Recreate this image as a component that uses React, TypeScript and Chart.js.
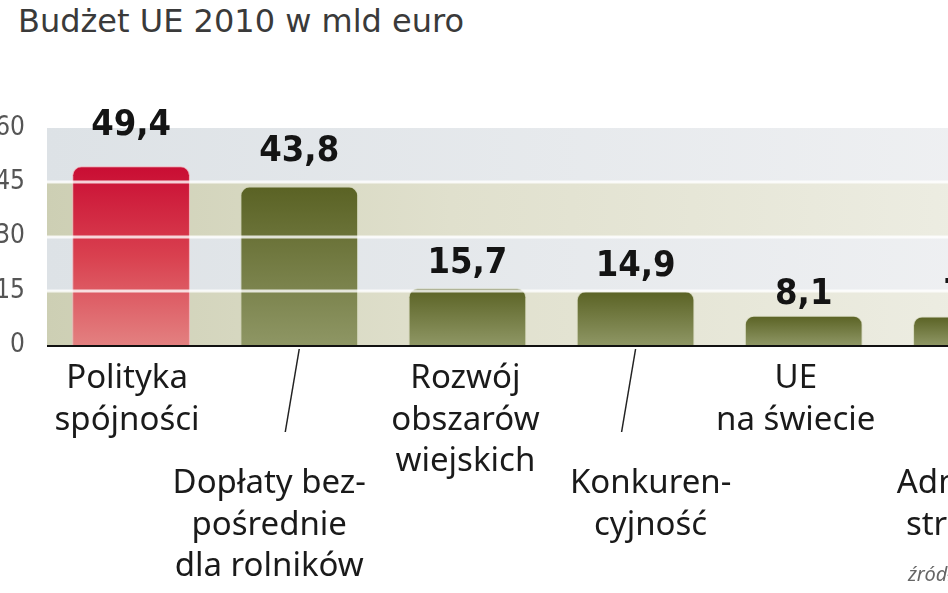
import React, { useEffect, useRef } from "react";
import { Chart, registerables } from "chart.js";

Chart.register(...registerables);

// ---- data ----
const categories: string[][] = [
  ["Polityka", "spójności"],
  ["Dopłaty bez-", "pośrednie", "dla rolników"],
  ["Rozwój", "obszarów", "wiejskich"],
  ["Konkuren-", "cyjność"],
  ["UE", "na świecie"],
  ["Admini-", "stracja"],
];
const values = [49.4, 43.8, 15.7, 14.9, 8.1, 7.9];
const yTicks = [0, 15, 30, 45, 60];
const title = "Budżet UE 2010 w mld euro";
const source = "źródło: Komisja Europejska";

// ---- layout / style ----
const labelRow = [0, 1, 0, 1, 0, 1];
const labelShift = [-4, -30, -2, 15, -8, -15];
const valueGap = [31, 26, 15, 15, 12, 12];
const CANVAS_W = 1080;
const CANVAS_H = 593;

const fmt = (v: number) => v.toFixed(1).replace(".", ",");

const decorPlugin = {
  id: "decor",
  beforeDatasetsDraw(chart: any) {
    const { ctx, chartArea } = chart;
    const y = chart.scales.y;
    for (let i = 0; i < yTicks.length - 1; i++) {
      const y1 = y.getPixelForValue(yTicks[i]);
      const y2 = y.getPixelForValue(yTicks[i + 1]);
      const g = ctx.createLinearGradient(chartArea.left, 0, chartArea.right, 0);
      if (i % 2 === 0) {
        g.addColorStop(0, "#cdcfb4");
        g.addColorStop(0.4, "#e0e0cd");
        g.addColorStop(1, "#efefe6");
      } else {
        g.addColorStop(0, "#dde2e6");
        g.addColorStop(1, "#f0f1f3");
      }
      ctx.save();
      ctx.fillStyle = g;
      ctx.fillRect(chartArea.left, y2, chartArea.right - chartArea.left, y1 - y2);
      ctx.restore();
    }
  },
  afterDatasetsDraw(chart: any) {
    const { ctx, chartArea } = chart;
    const y = chart.scales.y;
    const meta = chart.getDatasetMeta(0);
    ctx.save();
    // white grid lines over bars
    ctx.strokeStyle = "rgba(255,255,255,0.8)";
    ctx.lineWidth = 3;
    for (let i = 1; i < yTicks.length - 1; i++) {
      const py = Math.round(y.getPixelForValue(yTicks[i]));
      ctx.beginPath();
      ctx.moveTo(chartArea.left, py);
      ctx.lineTo(chartArea.right, py);
      ctx.stroke();
    }
    // axis line
    ctx.strokeStyle = "#111";
    ctx.lineWidth = 2;
    const by = chartArea.bottom + 1;
    ctx.beginPath();
    ctx.moveTo(chartArea.left, by);
    ctx.lineTo(chartArea.right, by);
    ctx.stroke();

    // value labels
    ctx.fillStyle = "#141414";
    ctx.textAlign = "center";
    ctx.textBaseline = "alphabetic";
    ctx.font = "bold 36px 'DejaVu Sans Condensed', 'Liberation Sans Narrow', sans-serif";
    meta.data.forEach((bar: any, i: number) => {
      ctx.fillText(fmt(values[i]), bar.x, bar.y - valueGap[i]);
    });

    // category labels
    ctx.font = "33px 'Noto Sans', 'Open Sans', sans-serif";
    ctx.fillStyle = "#1a1a1a";
    ctx.textBaseline = "middle";
    const lh = 41.5;
    meta.data.forEach((bar: any, i: number) => {
      const cx = bar.x + labelShift[i];
      const startY = chartArea.bottom + (labelRow[i] === 0 ? 34 : 139);
      categories[i].forEach((line, j) => {
        ctx.fillText(line, cx, startY + j * lh);
      });
      if (labelRow[i] === 1) {
        ctx.strokeStyle = "#222";
        ctx.lineWidth = 1.5;
        ctx.beginPath();
        ctx.moveTo(bar.x, chartArea.bottom + 4);
        ctx.lineTo(bar.x - 14, chartArea.bottom + 87);
        ctx.stroke();
      }
    });

    // source
    const last = meta.data[meta.data.length - 1];
    ctx.font = "italic 20px 'Noto Sans', 'Open Sans', sans-serif";
    ctx.fillStyle = "#666";
    ctx.textAlign = "left";
    ctx.fillText(source, last.x - 64, chartArea.bottom + 230);
    ctx.restore();
  },
};

export default function App() {
  const ref = useRef<HTMLCanvasElement | null>(null);

  useEffect(() => {
    if (!ref.current) return;
    const chart = new Chart(ref.current, {
      type: "bar",
      data: {
        labels: categories.map((c) => c.join(" ")),
        datasets: [
          {
            data: values,
            backgroundColor: (c: any) => {
              const chart = c.chart;
              const area = chart.chartArea;
              if (!area) return "#6b7434";
              const y = chart.scales.y;
              const top = y.getPixelForValue(values[c.dataIndex]);
              const g = chart.ctx.createLinearGradient(0, top, 0, area.bottom);
              if (c.dataIndex === 0) {
                g.addColorStop(0, "#c90d33");
                g.addColorStop(0.5, "#d9404f");
                g.addColorStop(1, "#e38080");
              } else {
                g.addColorStop(0, "#5a6224");
                g.addColorStop(1, "#8e9664");
              }
              return g;
            },
            borderColor: (c: any) => (c.dataIndex === 0 ? "rgba(245,170,180,0.9)" : "rgba(200,205,170,0.6)"),
            borderWidth: 1,
            borderRadius: { topLeft: 9, topRight: 9, bottomLeft: 0, bottomRight: 0 },
            borderSkipped: "bottom",
            barPercentage: 0.7,
            categoryPercentage: 1,
          },
        ],
      },
      options: {
        responsive: false,
        animation: false,
        devicePixelRatio: 1,
        layout: { padding: { top: 128, bottom: CANVAS_H - 345, left: 0, right: 24 } },
        plugins: {
          legend: { display: false },
          tooltip: { enabled: false },
        },
        scales: {
          x: { display: false, offset: true },
          y: {
            min: 0,
            max: 60,
            afterBuildTicks: (s: any) => {
              s.ticks = yTicks.map((v) => ({ value: v }));
            },
            afterFit: (s: any) => {
              s.width = 47;
            },
            grid: { display: false, drawTicks: false },
            border: { display: false },
            ticks: {
              padding: 22,
              color: "#555",
              font: { family: "'Liberation Sans Narrow', 'DejaVu Sans Condensed', sans-serif", size: 26 },
            },
          },
        },
      },
      plugins: [decorPlugin],
    } as any);
    return () => chart.destroy();
  }, []);

  return (
    <div
      style={{
        position: "fixed",
        left: 0,
        top: 0,
        width: 948,
        height: 593,
        overflow: "hidden",
        background: "#fff",
      }}
    >
      <div
        style={{
          position: "absolute",
          left: 18,
          top: 6,
          fontFamily: "'DejaVu Sans', sans-serif",
          fontSize: 32,
          lineHeight: "31px",
          color: "#3a3a3a",
          whiteSpace: "nowrap",
        }}
      >
        {title}
      </div>
      <canvas
        ref={ref}
        width={CANVAS_W}
        height={CANVAS_H}
        style={{ position: "absolute", left: 0, top: 0, width: CANVAS_W, height: CANVAS_H }}
      />
    </div>
  );
}
